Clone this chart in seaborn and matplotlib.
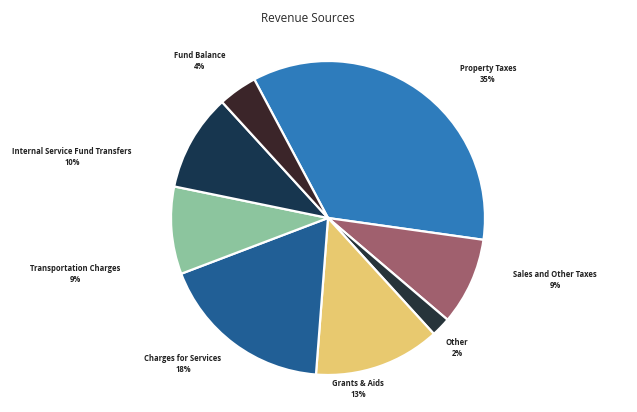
import matplotlib
matplotlib.use("Agg")
import matplotlib.pyplot as plt
import seaborn as sns

# revenue shares, clockwise from the top
categories = ["Property Taxes", "Sales and Other Taxes", "Other", "Grants & Aids",
              "Charges for Services", "Transportation Charges",
              "Internal Service Fund Transfers", "Fund Balance"]
shares = [35, 9, 2, 13, 18, 9, 10, 4]
colors = ["#2e7cbc", "#a0606e", "#27343a", "#e8c96f",
          "#215f96", "#8cc59e", "#17364f", "#3b2529"]

# label centres in pixels (layout only)
label_px = [(488, 74), (555, 280), (457, 348), (358, 389),
            (183, 364), (75, 274), (72, 157), (200, 61)]

sns.set_theme(style="white")
plt.rcParams["font.family"] = ["Open Sans", "DejaVu Sans"]

fig = plt.figure(figsize=(6.37, 4.12), dpi=100)
# pie centre around (328, 218) px, radius ~157 px
W, H, R = 600, 380, 157
cx, cy = 328, 218
ax = fig.add_axes([(cx - W / 2) / 637, (412 - cy - H / 2) / 412, W / 637, H / 412])

wedges, _ = ax.pie(shares, colors=colors, startangle=118, counterclock=False,
                   wedgeprops=dict(edgecolor="white", linewidth=1.6))
for name, val, (px, py) in zip(categories, shares, label_px):
    ax.text((px - cx) / R, (cy - py) / R, f"{name}\n{val}%", ha="center", va="center",
            fontsize=5.5, fontweight="bold", color="#222222", linespacing=1.25,
            clip_on=False)

ax.set_xlim(-W / 2 / R, W / 2 / R)
ax.set_ylim(-H / 2 / R, H / 2 / R)
ax.set_aspect("equal")
ax.axis("off")

fig.text(308 / 637, 1 - 18 / 412, "Revenue Sources", ha="center", va="center",
         fontsize=8.5, color="#2a2a2a")

fig.savefig("out.png", dpi=100)
